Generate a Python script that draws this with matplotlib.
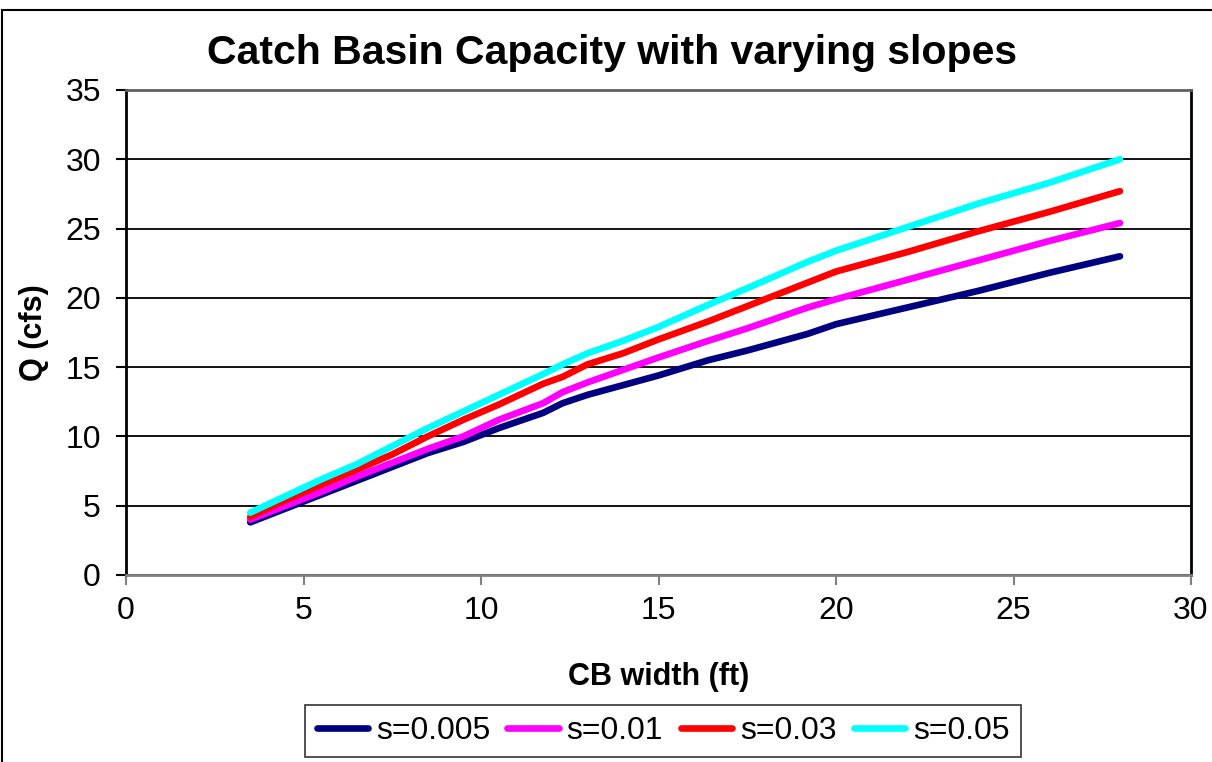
import matplotlib
matplotlib.use('Agg')
import matplotlib.pyplot as plt
from matplotlib.patches import Rectangle

plt.rcParams['font.family'] = ['Liberation Sans', 'DejaVu Sans']

# CB width (ft)
width = [3.5, 4.5, 5.5, 6.5, 7.5, 8.5, 9.5, 10.5, 11.75, 12.3, 13, 14, 15,
         16.4, 17.5, 19.2, 20, 22, 24, 26, 28]
# Q (cfs) for each slope
q_s0005 = [3.8, 4.8, 5.8, 6.8, 7.8, 8.8, 9.6, 10.6, 11.7, 12.4, 13.0, 13.7, 14.4,
           15.5, 16.2, 17.4, 18.1, 19.3, 20.5, 21.8, 23.0]
q_s001 = [4.0, 5.0, 6.0, 7.1, 8.1, 9.1, 10.0, 11.2, 12.4, 13.2, 13.9, 14.8, 15.7,
          16.9, 17.8, 19.3, 19.9, 21.3, 22.7, 24.1, 25.4]
q_s003 = [4.2, 5.4, 6.5, 7.6, 8.7, 10.0, 11.2, 12.3, 13.8, 14.3, 15.2, 16.0, 17.0,
          18.3, 19.4, 21.1, 21.9, 23.3, 24.8, 26.2, 27.7]
q_s005 = [4.5, 5.7, 6.9, 8.0, 9.3, 10.6, 11.8, 13.0, 14.5, 15.2, 16.0, 16.9, 17.9,
          19.5, 20.7, 22.6, 23.4, 25.1, 26.8, 28.3, 30.0]

labels = ['s=0.005', 's=0.01', 's=0.03', 's=0.05']
colors = ['#000080', '#FF00FF', '#FF0000', '#00FFFF']
series = [q_s0005, q_s001, q_s003, q_s005]

fig = plt.figure(figsize=(12.12, 7.62), dpi=100)
ax = fig.add_axes([126/1212, 1 - 575/762, (1191-126)/1212, (575-90)/762])

for q, lab, c in zip(series, labels, colors):
    ax.plot(width, q, color=c, lw=4.8, label=lab, solid_capstyle='round',
            solid_joinstyle='round')

ax.set_xlim(0, 30)
ax.set_ylim(0, 35)
ax.set_xticks(range(0, 31, 5))
ax.set_yticks(range(0, 36, 5))
ax.yaxis.grid(True, color='black', lw=1.3)
ax.set_axisbelow(True)

ax.tick_params(axis='both', labelsize=23, direction='out', length=7, width=1.5)
ax.tick_params(axis='x', color='#808080', pad=8)
ax.tick_params(axis='y', color='black', pad=11)
ax.spines['left'].set_linewidth(2)
ax.spines['right'].set_linewidth(2)
ax.spines['top'].set_color('#606060')
ax.spines['top'].set_linewidth(2)
ax.spines['bottom'].set_color('#808080')
ax.spines['bottom'].set_linewidth(2)

ax.set_xlabel('CB width (ft)', fontsize=22, fontweight='bold', labelpad=26)
ax.set_ylabel('Q (cfs)', fontsize=22, fontweight='bold', labelpad=12)
fig.text(612/1212, 1 - 53/762, 'Catch Basin Capacity with varying slopes',
         fontsize=29.5, fontweight='bold', ha='center', va='center')

leg = fig.legend(loc='center', bbox_to_anchor=(663/1212, 1 - 731/762), ncol=4,
                 fontsize=23, frameon=True, fancybox=False, edgecolor='black',
                 handlelength=1.6, handletextpad=0.25, columnspacing=0.55,
                 borderpad=0.35)
leg.get_frame().set_linewidth(1.2)

fig.patches.append(Rectangle((2/1212, -0.1), 1.2, 1 - 10/762 + 0.1,
                             transform=fig.transFigure, fill=False,
                             edgecolor='black', lw=1.5))

plt.savefig('out.png', dpi=100)
